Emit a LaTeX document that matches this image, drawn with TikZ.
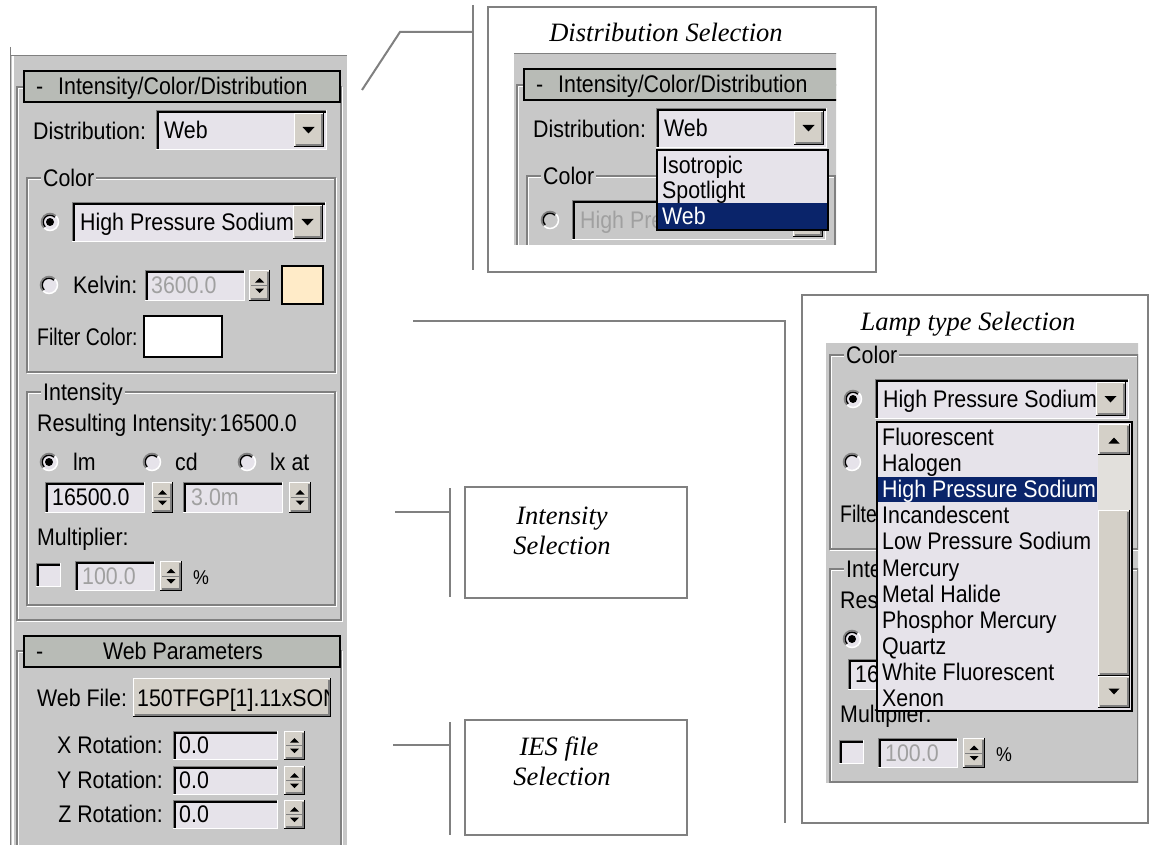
\documentclass[tikz,border=0pt]{standalone}
\usepackage{tikz}
\usepackage{fontspec}
\newfontfamily\uifont[FakeStretch=0.89]{Liberation Sans}
\newfontfamily\uifontn[FakeStretch=0.81]{Liberation Sans}
\newfontfamily\capfont{Liberation Serif}
\definecolor{uibg}{RGB}{200,200,200}
\definecolor{fieldbg}{RGB}{230,227,234}
\definecolor{hdrbg}{RGB}{184,187,182}
\definecolor{btnface}{RGB}{212,208,200}
\definecolor{dkgray}{RGB}{128,128,128}
\definecolor{selblue}{RGB}{10,36,106}
\definecolor{disabledtxt}{RGB}{160,160,160}
\definecolor{swatchc}{RGB}{255,235,200}
\definecolor{leadgray}{RGB}{128,128,128}
\definecolor{trackc}{RGB}{226,224,220}
\tikzset{
  uitxt/.style={font=\uifont\fontsize{24}{28}\selectfont, inner sep=0pt, anchor=base west, text=black},
  uinarrow/.style={uitxt, font=\uifontn\fontsize{24}{28}\selectfont},
  uigray/.style={uitxt, text=disabledtxt},
  uilab/.style={uitxt, fill=uibg, inner xsep=2pt},
  captxt/.style={font=\capfont\itshape\fontsize{26.5}{31}\selectfont, inner sep=0pt, anchor=base},
  leader/.style={draw=leadgray, line width=2pt},
  callout/.style={draw=leadgray, line width=2pt, fill=white, inner sep=0pt, outer sep=0pt},
}
\newcommand{\uiSunken}[5][fieldbg]{%
  \fill[#1] (#2,#3) rectangle (#4,#5);
  \draw[dkgray,line width=1.3] (#2+0.6,#5) -- (#2+0.6,#3+0.6) -- (#4,#3+0.6);
  \draw[black,line width=1.3] (#2+1.9,#5-1.3) -- (#2+1.9,#3+1.9) -- (#4-1.3,#3+1.9);
  \draw[white,line width=1.3] (#2,#5-0.6) -- (#4-0.6,#5-0.6) -- (#4-0.6,#3);
}
\newcommand{\uiRaised}[4]{%
  \fill[btnface] (#1,#2) rectangle (#3,#4);
  \draw[white,line width=1.3] (#1+0.6,#4) -- (#1+0.6,#2+0.6) -- (#3,#2+0.6);
  \draw[black,line width=1.3] (#1,#4-0.6) -- (#3-0.6,#4-0.6) -- (#3-0.6,#2);
  \draw[dkgray,line width=1.3] (#1+1.5,#4-1.9) -- (#3-1.9,#4-1.9) -- (#3-1.9,#2+1.5);
}
\newcommand{\uiSpin}[4]{%
  \uiRaised{#1}{#2}{#3}{#4}%
  \pgfmathsetmacro\spx{(#1+#3)/2}\pgfmathsetmacro\spy{(#2+#4)/2}%
  \draw[dkgray,line width=1] (#1+2,\spy) -- (#3-2,\spy);
  \fill (\spx-4.5,\spy-3) -- (\spx+4.5,\spy-3) -- (\spx,\spy-7.5) -- cycle;
  \fill (\spx-4.5,\spy+3) -- (\spx+4.5,\spy+3) -- (\spx,\spy+7.5) -- cycle;
}
\newcommand{\uiCombo}[8]{%
  \uiSunken[#5]{#1}{#2}{#3}{#4}%
  \node[#7] (#6) at (#1+8,{(#2+#4)/2+8.5}) {#8};%
  \uiRaised{#3-33}{#2+3}{#3-3}{#4-3}%
  \pgfmathsetmacro\cbx{#3-18.5}\pgfmathsetmacro\cby{(#2+#4)/2}%
  \fill (\cbx-6,\cby-3) -- (\cbx+6,\cby-3) -- (\cbx,\cby+3.5) -- cycle;%
}
\newcommand{\uiRadio}[3]{%
  \ifnum#3=2 \fill[uibg] (#1,#2) circle[radius=8.5];\else\fill[fieldbg] (#1,#2) circle[radius=8.5];\fi
  \draw[dkgray,line width=1.5] (#1,#2) ++(135:8.5) arc[start angle=135,end angle=315,radius=8.5];
  \draw[white,line width=1.5] (#1,#2) ++(315:8.5) arc[start angle=315,end angle=495,radius=8.5];
  \draw[black,line width=1.4] (#1,#2) ++(135:6.8) arc[start angle=135,end angle=315,radius=6.8];
  \ifnum#3=1 \fill[black] (#1,#2) circle[radius=4];\fi
}
\newcommand{\uiGroup}[4]{%
  \draw[dkgray,line width=1.2] (#1,#2) rectangle (#3,#4);
  \draw[white,line width=1.2] (#1+1.3,#2+1.3) -- (#3-1.3,#2+1.3);
  \draw[white,line width=1.2] (#1+1.3,#4-1.3) -- (#1+1.3,#2+1.3);
  \draw[white,line width=1.2] (#1,#4+1.3) -- (#3+1.3,#4+1.3) -- (#3+1.3,#2);
}
% panel background and first rollout frame
\newcommand{\uiBase}{%
  \fill[uibg] (10,55) rectangle (347,860);
  \draw[dkgray,line width=1.3] (10.6,47) -- (10.6,860);
  \draw[white,line width=1.3] (13,56) -- (13,860);
  \draw[dkgray,line width=1.3] (10,55.6) -- (347,55.6);
  \uiGroup{17}{87}{341}{620}
}
% header and distribution row
\newcommand{\uiDist}[1]{%
  \draw[black,line width=1.8,fill=hdrbg] (24,71) rectangle (340,102);
  \node[uitxt] (#1ha) at (36,95) {-};
  \node[uitxt] (#1hb) at (58,95) {Intensity/Color/Distribution};
  \node[uitxt] (#1dl) at (33,140) {Distribution:};
  \uiCombo{156}{110}{327}{150}{fieldbg}{#1dv}{uitxt}{Web}
}
% color group, lamp row
\newcommand{\uiColorTop}[3]{%
  \uiGroup{27}{178}{335}{372}
  \node[uilab] (#1cl) at (41,186.5) {Color};
  \ifnum#2=1
    \uiRadio{50}{222}{1}
    \uiCombo{72}{202}{326}{242}{fieldbg}{#1cv}{uitxt}{#3}
  \else
    \uiRadio{50}{222}{2}
    \uiCombo{72}{202}{326}{242}{uibg}{#1cv}{uigray}{#3}
  \fi
}
% kelvin and filter rows
\newcommand{\uiColorRest}[1]{%
  \uiRadio{49}{285}{0}
  \node[uitxt] (#1kl) at (73,293.5) {Kelvin:};
  \uiSunken{145}{270}{245}{301}
  \node[uigray] (#1kv) at (151,293.5) {3600.0};
  \uiSpin{249}{270}{270}{301}
  \draw[black,line width=1.3,fill=swatchc] (282,266) rectangle (323,304);
  \node[uinarrow] (#1fc) at (37,345) {Filter Color:};
  \draw[black,line width=1.3,fill=white] (144,316) rectangle (222,357);
}
% intensity group
\newcommand{\uiInten}[1]{%
  \uiGroup{27}{392}{335}{605}
  \node[uilab] (#1il) at (41,400.5) {Intensity};
  \node[uitxt] (#1ri) at (37,431.5) {Resulting Intensity:\kern2pt 16500.0};
  \uiRadio{49}{462}{1}
  \node[uitxt] (#1lm) at (73,470.5) {lm};
  \uiRadio{152}{462}{0}
  \node[uitxt] (#1cd) at (175,470.5) {cd};
  \uiRadio{247}{462}{0}
  \node[uitxt] (#1lx) at (270,470.5) {lx at};
  \uiSunken{45}{482}{145}{513}
  \node[uitxt] (#1lmv) at (52,505.5) {16500.0};
  \uiSpin{152}{482}{173}{513}
  \uiSunken{183}{482}{283}{513}
  \node[uigray] (#1dst) at (191,505.5) {3.0m};
  \uiSpin{289}{482}{311}{513}
  \node[uitxt] (#1mu) at (37,545.5) {Multiplier:};
  \uiSunken{36}{563}{61}{587}
  \uiSunken{75}{561}{155}{591}
  \node[uigray] (#1muv) at (82,584) {100.0};
  \uiSpin{160}{561}{182}{591}
  \node[uitxt] (#1pc) at (193,584) {\fontsize{20}{24}\selectfont\%};
}
% the parts of the same panel left visible beside the lamp list
\newcommand{\uiPartB}[1]{%
  \uiRadio{49}{285}{0}
  \node[uinarrow] (#1fc) at (37,345) {Filte};
  \uiGroup{27}{392}{335}{605}
  \node[uilab] (#1il) at (41,400.5) {Inte};
  \node[uitxt] (#1ri) at (37,431.5) {Res};
  \uiRadio{49}{462}{1}
  \uiSunken{45}{482}{145}{513}
  \node[uitxt] (#1lmv) at (52,505.5) {16};
  \node[uitxt] (#1mu) at (37,545.5) {Multiplier:};
  \uiSunken{36}{563}{61}{587}
  \uiSunken{75}{561}{155}{591}
  \node[uigray] (#1muv) at (82,584) {100.0};
  \uiSpin{160}{561}{182}{591}
  \node[uitxt] (#1pc) at (193,584) {\fontsize{20}{24}\selectfont\%};
}
% web parameters rollout
\newcommand{\uiWeb}[1]{%
  \uiGroup{17}{651}{341}{900}
  \draw[black,line width=1.8,fill=hdrbg] (24,636) rectangle (340,667);
  \node[uitxt] (#1wa) at (36,659.5) {-};
  \node[uitxt,anchor=base] (#1wb) at (183,659.5) {Web Parameters};
  \node[uitxt] (#1wf) at (37,706) {Web File:};
  \uiRaised{133}{678}{331}{717}
  \begin{scope}
    \clip (135,679) rectangle (328,716);
    \node[uitxt] (#1wfv) at (137,706) {150TFGP[1].11xSON};
  \end{scope}
  \node[uitxt,anchor=base east] (#1xr) at (163,753.5) {X Rotation:};
  \uiSunken{173}{731}{278}{760}
  \node[uitxt] (#1xv) at (179,753.5) {0.0};
  \uiSpin{284}{731}{305}{760}
  \node[uitxt,anchor=base east] (#1yr) at (163,788.5) {Y Rotation:};
  \uiSunken{173}{766}{278}{795}
  \node[uitxt] (#1yv) at (179,788.5) {0.0};
  \uiSpin{284}{766}{305}{795}
  \node[uitxt,anchor=base east] (#1zr) at (163,822.5) {Z Rotation:};
  \uiSunken{173}{800}{278}{829}
  \node[uitxt] (#1zv) at (179,822.5) {0.0};
  \uiSpin{284}{800}{305}{829}
}
\begin{document}
\begin{tikzpicture}[x=1pt,y=-1pt]
\useasboundingbox (0,0) rectangle (1151,845);
\fill[white] (0,0) rectangle (1151,845);
\clip (0,0) rectangle (1151,845);

% ---------- left panel ----------
\uiBase
\uiDist{p}
\uiColorTop{p}{1}{High Pressure Sodium}
\uiColorRest{p}
\uiInten{p}
\uiWeb{p}

% ---------- callout boxes ----------
\node[callout, minimum width=388, minimum height=265] (distbox) at (682,139.5) {};
\node[callout, minimum width=346, minimum height=528] (lampbox) at (975,559) {};
\node[callout, minimum width=222, minimum height=111] (intbox) at (576,542.5) {};
\node[callout, minimum width=222, minimum height=115] (iesbox) at (576,777.5) {};

% ---------- connectors ----------
\coordinate (d1) at (362,90);
\coordinate (d2) at (400,32);
\coordinate (d3) at (473,32);
\coordinate (dv1) at (473,5);
\coordinate (dv2) at (473,270);
\draw[leader] (d1) -- (d2) -- (d3);
\draw[leader] (dv1) -- (dv2);
\coordinate (l1) at (413,321);
\coordinate (l2) at (785,321);
\coordinate (lv2) at (785,823);
\draw[leader] (l1) -- (l2) -- (lv2);
\coordinate (i1) at (395,512);
\coordinate (i2) at (450,512);
\coordinate (iv1) at (450,488);
\coordinate (iv2) at (450,597);
\draw[leader] (i1) -- (i2);
\draw[leader] (iv1) -- (iv2);
\coordinate (e1) at (393,745);
\coordinate (e2) at (450,745);
\coordinate (ev1) at (450,722);
\coordinate (ev2) at (450,835);
\draw[leader] (e1) -- (e2);
\draw[leader] (ev1) -- (ev2);

% ---------- callout texts ----------
\node[captxt] (dtitle) at (666,42) {Distribution Selection};
\node[captxt] (ltitle) at (968,330) {Lamp type Selection};
\node[captxt] (it1) at (562,524) {Intensity};
\node[captxt] (it2) at (562,554) {Selection};
\node[captxt] (ie1) at (559,755) {IES file};
\node[captxt] (ie2) at (562,785) {Selection};

% ---------- top inset ----------
\begin{scope}
  \clip (514,53) rectangle (836,244);
  \begin{scope}[shift={(500,-2)}]
    \uiBase
    \uiDist{a}
    \uiColorTop{a}{2}{High Pre}
  \end{scope}
  \draw[black,line width=1.3,fill=fieldbg] (657,150) rectangle (828,230);
  \fill[selblue] (658,203) rectangle (827,229);
  \node[uitxt] (aiso) at (662,173.5) {Isotropic};
  \node[uitxt] (aspot) at (662,198.5) {Spotlight};
  \node[uitxt,text=white] (aweb) at (662,225) {Web};
\end{scope}

% ---------- right inset ----------
\begin{scope}
  \clip (826,343) rectangle (1138,782);
  \begin{scope}[shift={(803,177)}]
    \uiBase
    \uiColorTop{b}{1}{High Pressure Sodium}
    \uiPartB{b}
  \end{scope}
  \draw[black,line width=1.5,fill=fieldbg] (877,422) rectangle (1132,711);
  \fill[selblue] (878,477) rectangle (1097,502);
  \node[uitxt] (bi1) at (882,445.5) {Fluorescent};
  \node[uitxt] (bi2) at (882,471.6) {Halogen};
  \node[uitxt,text=white] (bi3) at (882,497.7) {High Pressure Sodium};
  \node[uitxt] (bi4) at (882,523.8) {Incandescent};
  \node[uitxt] (bi5) at (882,549.9) {Low Pressure Sodium};
  \node[uitxt] (bi6) at (882,576.0) {Mercury};
  \node[uitxt] (bi7) at (882,602.1) {Metal Halide};
  \node[uitxt] (bi8) at (882,628.2) {Phosphor Mercury};
  \node[uitxt] (bi9) at (882,654.3) {Quartz};
  \node[uitxt] (bi10) at (882,680.4) {White Fluorescent};
  \node[uitxt] (bi11) at (882,706.5) {Xenon};
  \fill[trackc] (1098,455) rectangle (1130,510);
  \uiRaised{1098}{424}{1130}{455}
  \fill (1108.5,443.5) -- (1119.5,443.5) -- (1114,437.5) -- cycle;
  \uiRaised{1098}{510}{1130}{676}
  \uiRaised{1098}{676}{1130}{708}
  \fill (1108.5,688.5) -- (1119.5,688.5) -- (1114,694.5) -- cycle;
\end{scope}
\end{tikzpicture}
\end{document}
